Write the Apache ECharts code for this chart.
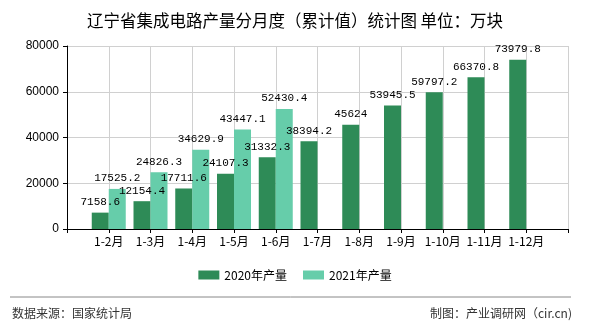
<!DOCTYPE html>
<html>
<head>
<meta charset="utf-8">
<script src="https://cdn.jsdelivr.net/npm/echarts@6/dist/echarts.min.js"></script>
<style>
html,body{margin:0;padding:0;background:#fff;}
#chart{width:590px;height:330px;}
</style>
</head>
<body>
<div id="chart"></div>
<script>
var categories = ["", "1-2月", "1-3月", "1-4月", "1-5月", "1-6月", "1-7月", "1-8月", "1-9月", "1-10月", "1-11月", "1-12月", ""];
var values2020 = [null, 7158.6, 12154.4, 17711.6, 24107.3, 31332.3, 38394.2, 45624, 53945.5, 59797.2, 66370.8, 73979.8, null];
var values2021 = [null, 17525.2, 24826.3, 34629.9, 43447.1, 52430.4, null, null, null, null, null, null, null];
var seriesNames = ["2020年产量", "2021年产量"];
var yTicks = {min: 0, max: 80000, interval: 20000};
var titleText = "辽宁省集成电路产量分月度（累计值）统计图 单位：万块";
var sourceText = "数据来源：国家统计局";
var makerText = "制图：产业调研网（cir.cn)";

var chart = echarts.init(document.getElementById('chart'), null, {renderer: 'canvas'});
var labelStyle = {
  show: true, position: 'top', distance: 5, color: '#000',
  fontFamily: '"Liberation Mono", "DejaVu Sans Mono", monospace', fontSize: 11,
  formatter: function (p) { return p.value == null ? '' : String(p.value); }
};
chart.setOption({
  animation: false,
  backgroundColor: '#fff',
  title: {
    text: titleText, left: 'center', top: 7,
    textStyle: {fontSize: 16.5, fontWeight: 'normal', color: '#000', fontFamily: '"Noto Sans CJK SC", sans-serif'}
  },
  legend: {
    data: seriesNames, bottom: 44, left: 'center', itemWidth: 21, itemHeight: 9, itemGap: 16,
    icon: 'rect',
    textStyle: {fontSize: 12, color: '#000', fontFamily: '"Noto Sans CJK SC", sans-serif'}
  },
  grid: {left: 67, right: 22, top: 46, bottom: 101, containLabel: false},
  xAxis: {
    type: 'category', data: categories, boundaryGap: false,
    axisLine: {lineStyle: {color: '#000', width: 1}},
    axisTick: {show: true, length: 4, lineStyle: {color: '#000'}},
    axisLabel: {color: '#000', fontSize: 12, margin: 6, interval: 0, fontFamily: '"Noto Sans CJK SC", sans-serif'},
    splitLine: {show: true, lineStyle: {color: '#d0d0d0', width: 1}}
  },
  yAxis: {
    type: 'value', min: yTicks.min, max: yTicks.max, interval: yTicks.interval,
    axisLine: {show: true, lineStyle: {color: '#000', width: 1}},
    axisTick: {show: true, length: 4, lineStyle: {color: '#000'}},
    axisLabel: {color: '#000', fontSize: 12, margin: 8, fontFamily: '"Liberation Sans", Arial, sans-serif',
      formatter: function (v) { return String(v); }},
    splitLine: {show: true, lineStyle: {color: '#d0d0d0', width: 1}}
  },
  series: [
    {name: seriesNames[0], type: 'bar', data: values2020, barWidth: 17, barGap: '0%',
     itemStyle: {color: '#2e8b57'}, label: labelStyle},
    {name: seriesNames[1], type: 'bar', data: values2021, barWidth: 17, barGap: '0%',
     itemStyle: {color: '#66cdaa'}, label: labelStyle}
  ],
  graphic: [
    {type: 'line', shape: {x1: 10, y1: 297, x2: 571, y2: 297}, style: {stroke: '#888', lineWidth: 1}},
    {type: 'text', left: 12, top: 307, style: {text: sourceText, fontSize: 12, fill: '#333', fontFamily: '"Noto Sans CJK SC", sans-serif'}},
    {type: 'text', right: 18, top: 307, style: {text: makerText, fontSize: 12, fill: '#333', fontFamily: '"Noto Sans CJK SC", sans-serif'}}
  ]
});
</script>
</body>
</html>
